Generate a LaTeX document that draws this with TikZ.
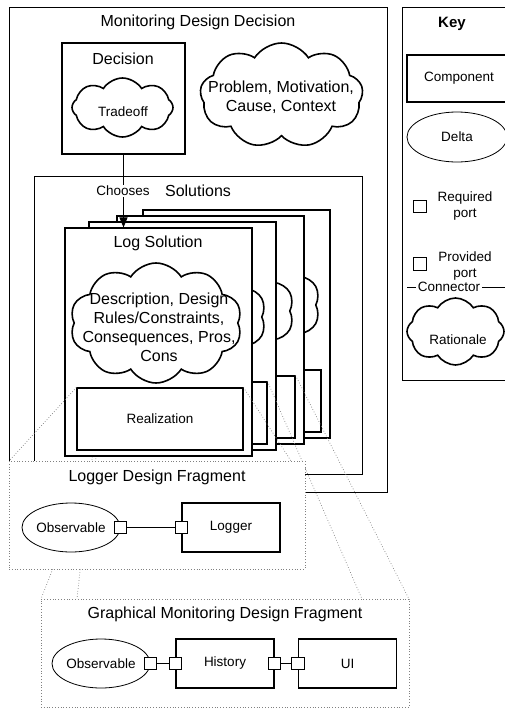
\documentclass[tikz,border=0pt]{standalone}
\usepackage{fontspec}
\setmainfont{Liberation Sans}
\usetikzlibrary{shapes.geometric,shapes.symbols,arrows.meta,calc}

\begin{document}
\begin{tikzpicture}[x=1pt,y=-1pt]
\tikzstyle{big}=[font=\fontsize{16}{19}\selectfont]
\tikzstyle{small}=[font=\fontsize{13.5}{16}\selectfont]
\tikzstyle{panel}=[rectangle,draw,line width=0.9pt,fill=white,inner sep=0pt]
\tikzstyle{solbox}=[rectangle,draw,line width=1.1pt,fill=white,minimum width=187pt,minimum height=228pt,inner sep=0pt]
\tikzstyle{realbox}=[rectangle,draw,line width=1.1pt,fill=white,minimum width=166pt,minimum height=62pt,inner sep=0pt]
\tikzstyle{rationale}=[cloud,draw,line width=1.6pt,fill=white,cloud puffs=9,cloud puff arc=115,cloud ignores aspect,inner sep=0pt]
\tikzstyle{comp}=[rectangle,draw,line width=1.2pt,minimum width=98pt,minimum height=49pt,small]
\tikzstyle{delta}=[ellipse,draw,line width=0.8pt,minimum width=98pt,minimum height=49pt,inner sep=0pt,small]
\tikzstyle{port}=[rectangle,draw,line width=0.9pt,fill=white,minimum size=12.5pt,inner sep=0pt]
\tikzstyle{fragment}=[rectangle,draw=gray,dotted,line width=0.8pt,fill=white,inner sep=0pt]
\tikzstyle{zoomline}=[draw=gray,dotted,line width=0.7pt]
\tikzstyle{gap}=[fill=white,inner sep=1.5pt]
\useasboundingbox (0,0) rectangle (504,709);
\coordinate (logtl) at (9,461);
\coordinate (logtr) at (291,461);
\coordinate (gfl) at (41,599);
\coordinate (gfm) at (77,599);
\coordinate (gfn) at (362,599);
\coordinate (gfr) at (409,599);
\node [panel,minimum width=378pt,minimum height=485pt] (monitor) at (198,249.5) {};
\node [big] (monitortitle) at (198,22) {Monitoring Design Decision};
\node [panel,minimum width=110pt,minimum height=373pt] (key) at (457,193.5) {};
\node [font=\fontsize{15}{18}\selectfont\bfseries] (keytitle) at (452,24) {Key};
\node [comp,minimum width=104pt,minimum height=47pt] (keycomp) at (459,78.5) {Component};
\node [delta,minimum width=100pt,minimum height=50pt] (keydelta) at (457,137) {Delta};
\node [port] (keyreq) at (420,206.5) {};
\node [small,align=center] (keyreqtext) at (465,206) {Required\\port};
\node [port] (keyprov) at (420,264) {};
\node [small,align=center] (keyprovtext) at (465,266) {Provided\\port};
\coordinate (keyconl) at (407,287);
\coordinate (keyconr) at (510,287);
\draw [line width=0.8pt] (keyconl) -- (keyconr);
\node [small,gap] (keycon) at (449,287) {Connector};
\node [rationale,cloud puffs=8,minimum width=97pt,minimum height=67pt] (keywhy) at (455.5,331.5) {};
\node [small] (keywhytext) at (458,340) {Rationale};
\node [panel,line width=1.5pt,minimum width=123pt,minimum height=111pt] (decision) at (123.5,98.5) {};
\node [big] (decisiontitle) at (123,59) {Decision};
\node [rationale,cloud puffs=8,minimum width=101pt,minimum height=59pt] (tradeoff) at (122.5,107.5) {};
\node [small] (tradeofftext) at (123,112) {Tradeoff};
\node [rationale,minimum width=163pt,minimum height=105pt] (problem) at (281.5,95.5) {};
\node [big,align=center] (problemtext) at (281,97.5) {Problem, Motivation,\\Cause, Context};
\node [panel,minimum width=328pt,minimum height=298pt] (solutions) at (198,325) {};
\node [big] (solutionstitle) at (198,191) {Solutions};
\foreach \n/\dx/\dy in {d/78/-18,c/52/-12,b/24/-6} {
\node [solbox] (sol\n) at (158.5+\dx,342+\dy) {};
\node [rationale,cloud puffs=10,minimum width=172pt,minimum height=120pt] (why\n) at ($(sol\n)+(-2.5,-19)$) {};
\node [realbox] (real\n) at ($(sol\n)+(1.5,77)$) {};
}
\draw [zoomline] (realc.north west) -- (gfl);
\draw [zoomline] (realc.north east) -- (gfr);
\draw [zoomline] (realb.north west) -- (gfm);
\draw [zoomline] (realb.north east) -- (gfn);
\node [solbox] (sola) at (158.5,342) {};
\node [big] (solatitle) at (158,243) {Log Solution};
\node [rationale,cloud puffs=10,minimum width=172pt,minimum height=120pt] (whya) at ($(sola)+(-2.5,-19)$) {};
\node [big,align=center] (whyatext) at (159,327) {Description, Design\\Rules/Constraints,\\Consequences, Pros,\\Cons};
\node [realbox,small] (reala) at ($(sola)+(1.5,77)$) {Realization};
\draw [zoomline] (reala.north west) -- (logtl);
\draw [zoomline] (reala.north east) -- (logtr);
\draw [line width=0.9pt,-{Triangle[length=10pt,width=8pt]}] (decision.south) -- (decision.south |- sola.north);
\node [small,gap] (chooses) at (123,191) {Chooses};
\node [fragment,minimum width=296pt,minimum height=108pt] (logfrag) at (157,515) {};
\node [big] (logfragtitle) at (157,477) {Logger Design Fragment};
\node [delta] (obs1) at (71,527.5) {Observable};
\node [comp] (logger) at (231,527.5) {Logger};
\draw [line width=0.8pt] (obs1.east) -- (logger.west);
\node [port] (obs1p) at (obs1.east) {};
\node [port] (loggerp) at (logger.west) {};
\node [fragment,minimum width=368pt,minimum height=108pt] (gfrag) at (225,653) {};
\node [big] (gfragtitle) at (225,614) {Graphical Monitoring Design Fragment};
\node [delta] (obs2) at (101,663.5) {Observable};
\node [comp] (history) at (225,663.5) {History};
\node [comp] (ui) at (347.5,663.5) {UI};
\draw [line width=0.8pt] (obs2.east) -- (history.west);
\draw [line width=0.8pt] (history.east) -- (ui.west);
\node [port] (obs2p) at (obs2.east) {};
\node [port] (histin) at (history.west) {};
\node [port] (histout) at (history.east) {};
\node [port] (uiin) at (ui.west) {};
\end{tikzpicture}
\end{document}
